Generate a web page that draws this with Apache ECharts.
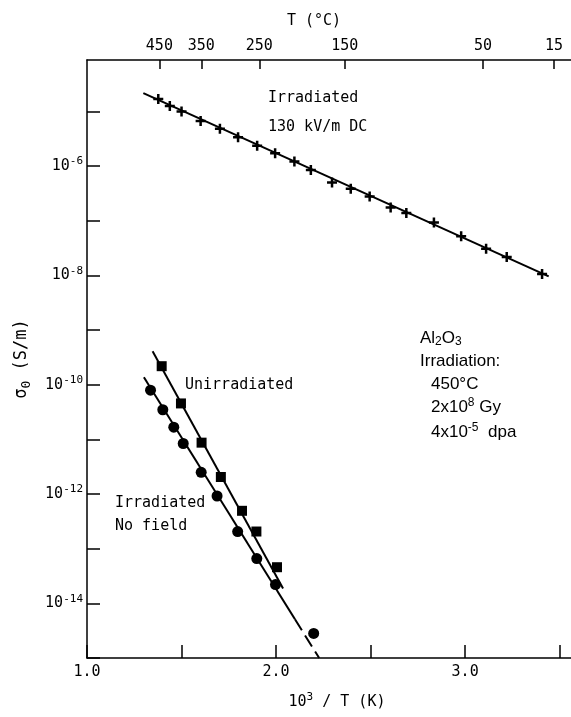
<!DOCTYPE html>
<html>
<head>
<meta charset="utf-8">
<title>Al2O3 conductivity vs 1/T</title>
<script src="https://cdn.jsdelivr.net/npm/echarts@6.0.0/dist/echarts.min.js"></script>
<style>
  html, body { margin: 0; padding: 0; background: #fff; }
  #chart { width: 571px; height: 717px; }
</style>
</head>
<body>
<div id="chart"></div>
<script>
// 10^3/T (K^-1) and sigma_0 (S/m)
const dcInvT = [1.377, 1.438, 1.500, 1.601, 1.703, 1.799, 1.900, 1.995, 2.097, 2.184,
                2.296, 2.395, 2.495, 2.606, 2.689, 2.835, 2.979, 3.111, 3.220, 3.407]
const dcSigma = [1.69e-5, 1.26e-5, 9.9e-6, 6.7e-6, 4.79e-6, 3.37e-6, 2.34e-6, 1.72e-6, 1.21e-6, 8.5e-7,
                 5.0e-7, 3.84e-7, 2.77e-7, 1.75e-7, 1.38e-7, 9.3e-8, 5.2e-8, 3.08e-8, 2.17e-8, 1.06e-8]
const dcFitInvT = [1.298, 3.442]
const dcFitSigma = [2.15e-5, 9.6e-9]

const unirrInvT = [1.395, 1.497, 1.606, 1.708, 1.820, 1.896, 2.005]
const unirrSigma = [2.18e-10, 4.54e-11, 8.7e-12, 2.05e-12, 4.93e-13, 2.06e-13, 4.58e-14]
const unirrFitInvT = [1.347, 2.037]
const unirrFitSigma = [4.09e-10, 1.87e-14]

const irrInvT = [1.336, 1.401, 1.459, 1.509, 1.604, 1.688, 1.797, 1.898, 1.997, 2.199]
const irrSigma = [7.94e-11, 3.48e-11, 1.67e-11, 8.4e-12, 2.49e-12, 9.2e-13, 2.06e-13, 6.6e-14, 2.2e-14, 2.82e-15]
// solid part then dashed extrapolation
const irrFitInvT = [1.301, 2.10, 2.228]
const irrFitSigma = [1.37e-10, 5.1e-15, 1.0e-15]

// axis ticks and labels
const xTickValues = [1.0, 1.5, 2.0, 2.5, 3.0, 3.5]
const xLabelValues = [1.0, 2.0, 3.0]
const topTempC = [450, 350, 250, 150, 50, 15]
const yTickExp = [-15, -14, -13, -12, -11, -10, -9, -8, -7, -6, -5]
const yLabelExp = [-14, -12, -10, -8, -6]

const FONT = "'DejaVu Sans Mono', 'Liberation Mono', monospace"
const FONT2 = "'Liberation Sans', Arial, sans-serif"
const PLUS = 'path://M3.75,0H6.25V3.75H10V6.25H6.25V10H3.75V6.25H0V3.75H3.75Z'

const toPts = (xs, sig) => xs.map((x, i) => [x, Math.log10(sig[i])])
const toInvT = t => 1000 / (t + 273.15)

const axisLineStyle = { color: '#000', width: 1.5 }
const richMono = {
  n: { fontFamily: FONT, fontSize: 15, color: '#000', lineHeight: 20, verticalAlign: 'middle' },
  s: { fontFamily: FONT, fontSize: 11, color: '#000', lineHeight: 8, verticalAlign: 'top' },
  sub: { fontFamily: FONT, fontSize: 12, color: '#000', lineHeight: 10, verticalAlign: 'bottom' }
}
const richSans = {
  n: { fontFamily: FONT2, fontSize: 17, color: '#000', lineHeight: 20, verticalAlign: 'middle' },
  sup: { fontFamily: FONT2, fontSize: 12, color: '#000', lineHeight: 8, verticalAlign: 'top' },
  sub: { fontFamily: FONT2, fontSize: 12, color: '#000', lineHeight: 12, verticalAlign: 'bottom' }
}

const monoText = (x, y, text) => ({
  type: 'text', x, y,
  style: { text, fill: '#000', fontFamily: FONT, fontSize: 15, align: 'left', verticalAlign: 'middle' }
})
const sansText = (x, y, text) => ({
  type: 'text', x, y,
  style: { text, rich: richSans, align: 'left', verticalAlign: 'middle' }
})

const markStyle = { color: '#000', opacity: 1 }

const chart = echarts.init(document.getElementById('chart'))

chart.setOption({
  animation: false,
  backgroundColor: '#fff',
  grid: { left: 87, right: 0, top: 60, bottom: 59, containLabel: false, outerBoundsMode: 'none' },
  xAxis: [
    {
      type: 'value', position: 'bottom', min: 1, max: 3.56,
      axisLine: { show: true, onZero: false, lineStyle: axisLineStyle },
      axisTick: { show: true, inside: true, length: 13, customValues: xTickValues, lineStyle: axisLineStyle },
      axisLabel: {
        customValues: xLabelValues, formatter: v => v.toFixed(1),
        color: '#000', fontFamily: FONT, fontSize: 15, margin: 7
      },
      splitLine: { show: false },
      name: '{n|10}{s|3}{n| / T (K)}',
      nameLocation: 'middle', nameGap: 34,
      nameTextStyle: { rich: richMono, padding: [0, 0, 0, 16] }
    },
    {
      type: 'value', position: 'top', min: 1, max: 3.56,
      axisLine: { show: true, onZero: false, lineStyle: axisLineStyle },
      axisTick: { show: true, inside: true, length: 9, customValues: topTempC.map(toInvT), lineStyle: axisLineStyle },
      axisLabel: {
        customValues: topTempC.map(toInvT),
        formatter: v => String(Math.round(1000 / v - 273.15)),
        color: '#000', fontFamily: FONT, fontSize: 15, margin: 6
      },
      splitLine: { show: false },
      name: 'T (°C)',
      nameLocation: 'middle', nameGap: 31,
      nameTextStyle: { color: '#000', fontFamily: FONT, fontSize: 15, padding: [0, 30, 0, 0] }
    }
  ],
  yAxis: {
    type: 'value', min: -15, max: -4.06,
    axisLine: { show: true, onZero: false, lineStyle: axisLineStyle },
    axisTick: { show: true, inside: true, length: 13, customValues: yTickExp, lineStyle: axisLineStyle },
    axisLabel: {
      customValues: yLabelExp,
      formatter: v => '{n|10}{s|' + v + '}',
      rich: richMono, margin: 4
    },
    splitLine: { show: false },
    name: '{n|σ}{sub|0}{n| (S/m)}',
    nameLocation: 'middle', nameGap: 54,
    nameTextStyle: {
      rich: {
        n: { fontFamily: FONT, fontSize: 17, color: '#000', lineHeight: 22, verticalAlign: 'middle' },
        sub: { fontFamily: FONT, fontSize: 13, color: '#000', lineHeight: 12, verticalAlign: 'bottom' }
      }
    }
  },
  series: [
    {
      type: 'line', data: toPts(dcFitInvT, dcFitSigma), symbol: 'none',
      lineStyle: { color: '#000', width: 2 }, z: 2
    },
    {
      type: 'scatter', data: toPts(dcInvT, dcSigma), symbol: PLUS, symbolSize: 10,
      itemStyle: markStyle, z: 3
    },
    {
      type: 'line', data: toPts(unirrFitInvT, unirrFitSigma), symbol: 'none',
      lineStyle: { color: '#000', width: 2 }, z: 2
    },
    {
      type: 'scatter', data: toPts(unirrInvT, unirrSigma), symbol: 'rect', symbolSize: 10,
      itemStyle: markStyle, z: 3
    },
    {
      type: 'line', data: toPts(irrFitInvT.slice(0, 2), irrFitSigma.slice(0, 2)), symbol: 'none',
      lineStyle: { color: '#000', width: 2 }, z: 2
    },
    {
      type: 'line', data: toPts(irrFitInvT.slice(1), irrFitSigma.slice(1)), symbol: 'none',
      lineStyle: { color: '#000', width: 2, type: [13, 6] }, z: 2
    },
    {
      type: 'scatter', data: toPts(irrInvT, irrSigma), symbol: 'circle', symbolSize: 11,
      itemStyle: markStyle, z: 3
    }
  ],
  graphic: [
    monoText(268, 98, 'Irradiated'),
    monoText(268, 127, '130 kV/m DC'),
    monoText(185, 385, 'Unirradiated'),
    monoText(115, 503, 'Irradiated'),
    monoText(115, 526, 'No field'),
    sansText(420, 338, '{n|Al}{sub|2}{n|O}{sub|3}'),
    sansText(420, 361, '{n|Irradiation:}'),
    sansText(431, 384, '{n|450°C}'),
    sansText(431, 407, '{n|2x10}{sup|8}{n| Gy}'),
    sansText(431, 432, '{n|4x10}{sup|-5}{n|  dpa}')
  ]
})
</script>
</body>
</html>
